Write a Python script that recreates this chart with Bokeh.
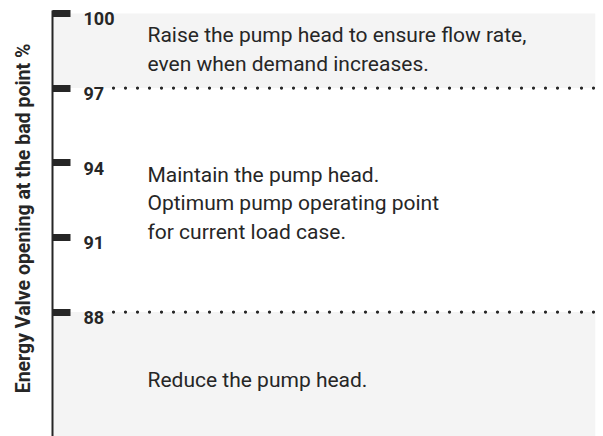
from bokeh.plotting import figure
from bokeh.models import Range1d, FixedTicker, BoxAnnotation, ColumnDataSource
from bokeh.core.properties import value
from bokeh.embed import file_html
from bokeh.resources import INLINE

# ---- data ----
tick_values = [100, 97, 94, 91, 88]
tick_labels = ["100", "97", "94", "91", "88"]
threshold_values = [97, 88]
zone_bottoms = [97, None]
zone_tops = [100, 88]
zone_text_y = [98.55, 92.38, 85.28]
zone_texts = [
    "Raise the pump head to ensure flow rate,\neven when demand increases.",
    "Maintain the pump head.\nOptimum pump operating point\nfor current load case.",
    "Reduce the pump head.",
]
y_title = "Energy Valve opening at the bad point %"

# ---- layout / style ----
W, H = 603, 436
LEFT, RIGHT = 52, 8
FRAME_W = W - LEFT - RIGHT
Y_START, Y_END = 83.0, 100.52
AXIS_TOP = 100.12
INK = "#262626"
BAND = "#f4f4f4"

p = figure(width=W, height=H, output_backend="svg", toolbar_location=None,
           x_range=Range1d(0, FRAME_W), y_range=Range1d(Y_START, Y_END),
           x_axis_location=None, min_border_left=LEFT, min_border_right=RIGHT,
           min_border_top=0, min_border_bottom=0)
p.outline_line_color = None
p.xgrid.visible = False
p.ygrid.visible = False
p.background_fill_color = "white"
p.border_fill_color = "white"

# bands
p.add_layout(BoxAnnotation(bottom=zone_bottoms[0], top=zone_tops[0],
                           fill_color=BAND, fill_alpha=1, line_color=None, level="underlay"))
p.add_layout(BoxAnnotation(top=zone_tops[1], fill_color=BAND, fill_alpha=1,
                           line_color=None, level="underlay"))

# dotted threshold lines
src_lines = ColumnDataSource(dict(y=threshold_values,
                                  x0=[FRAME_W - 2] * len(threshold_values),
                                  x1=[49] * len(threshold_values)))
p.segment(x0="x0", x1="x1", y0="y", y1="y", source=src_lines,
          line_color=INK, line_width=3.3, line_cap="round", line_dash="0 12")

# axis
ax = p.yaxis[0]
ax.ticker = FixedTicker(ticks=tick_values)
ax.bounds = (Y_START, AXIS_TOP)
ax.axis_line_color = INK
ax.axis_line_width = 2
ax.major_tick_in = 18
ax.major_tick_out = 0
ax.major_tick_line_width = 7
ax.major_tick_line_color = INK
ax.minor_tick_line_color = None
ax.major_label_text_font_size = "1px"
ax.major_label_text_color = None
ax.major_label_standoff = 0
ax.axis_label = y_title
ax.axis_label_text_font = "Roboto"
ax.axis_label_text_font_style = "bold"
ax.axis_label_text_font_size = "19.5px"
ax.axis_label_text_color = INK
ax.axis_label_standoff = 18

# tick labels inside plot
p.text(x=[0] * len(tick_values), y=tick_values, text=tick_labels,
       x_offset=31, y_offset=-1, text_baseline="top", text_align="left",
       text_font=value("Roboto"), text_font_style="bold", text_font_size="18px",
       text_color=INK)

# zone texts
p.text(x=[0] * len(zone_texts), y=zone_text_y, text=zone_texts,
       x_offset=95, text_baseline="middle", text_align="left",
       text_font=value("Roboto"), text_font_size="21px", text_line_height=1.19,
       text_color=INK)

open("out.html", "w").write(file_html(p, INLINE))
